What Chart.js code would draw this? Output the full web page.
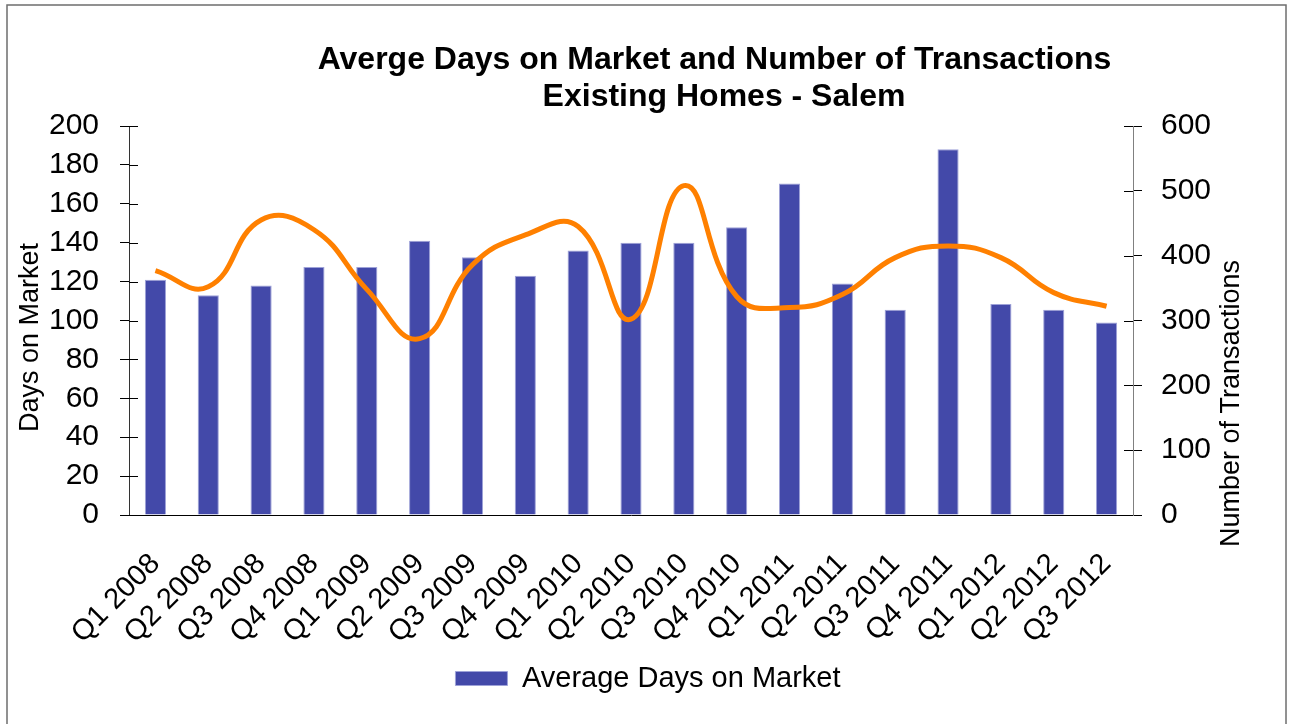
<!DOCTYPE html>
<html>
<head>
<meta charset="utf-8">
<script src="https://cdn.jsdelivr.net/npm/chart.js@4"></script>
<style>
html,body{margin:0;padding:0;background:#fff;}
#wrap{width:1296px;height:724px;position:relative;}
</style>
</head>
<body>
<div id="wrap"><canvas id="c" width="1296" height="724"></canvas></div>
<script>
const categories = ["Q1 2008","Q2 2008","Q3 2008","Q4 2008","Q1 2009","Q2 2009","Q3 2009","Q4 2009","Q1 2010","Q2 2010","Q3 2010","Q4 2010","Q1 2011","Q2 2011","Q3 2011","Q4 2011","Q1 2012","Q2 2012","Q3 2012"];
const daysOnMarket = [121,113,118,127.5,127.5,141,132.5,123,136,140,140,148,170.5,119,105.5,188,108.5,105.5,99];
const transactions = [377,352,455,440,348,272,386,432,445,302,508,337,320,340,397,415,397,343,322];
const leftTickValues = [0,20,40,60,80,100,120,140,160,180,200];
const rightTickValues = [0,100,200,300,400,500,600];
const titleLines = ["Averge Days on Market and Number of Transactions","Existing Homes - Salem"];
const leftAxisTitle = "Days on Market";
const rightAxisTitle = "Number of Transactions";
const barLabel = "Average Days on Market";
const lineLabel = "Number of Transactions";

const FONT = "'Liberation Sans', Arial, sans-serif";

const decor = {
  id: 'decor',
  beforeDraw(chart) {
    const ctx = chart.ctx;
    ctx.save();
    ctx.fillStyle = '#fff';
    ctx.fillRect(0, 0, chart.width, chart.height);
    ctx.strokeStyle = '#6e6e6e';
    ctx.lineWidth = 1.5;
    ctx.strokeRect(7, 5, 1279, 740);
    ctx.restore();
  },
  afterDraw(chart) {
    const ctx = chart.ctx;
    const ca = chart.chartArea;
    ctx.save();
    ctx.lineWidth = 1;
    ctx.strokeStyle = '#000';
    chart.scales.y.ticks.forEach(t => {
      const py = Math.round(chart.scales.y.getPixelForValue(t.value)) + 0.5;
      ctx.beginPath(); ctx.moveTo(ca.left, py); ctx.lineTo(ca.left + 9, py); ctx.stroke();
    });
    chart.scales.y1.ticks.forEach(t => {
      const py = Math.round(chart.scales.y1.getPixelForValue(t.value)) + 0.5;
      ctx.beginPath(); ctx.moveTo(ca.right - 9, py); ctx.lineTo(ca.right, py); ctx.stroke();
    });
    ctx.fillStyle = '#000';
    ctx.font = "bold 32px " + FONT;
    ctx.textAlign = 'center';
    ctx.textBaseline = 'alphabetic';
    ctx.fillText(titleLines[0], 714.5, 69);
    ctx.fillText(titleLines[1], 724, 106);
    ctx.font = "27px " + FONT;
    ctx.textAlign = 'left';
    ctx.save();
    ctx.translate(38, 432);
    ctx.rotate(-Math.PI / 2);
    ctx.fillText(leftAxisTitle, 0, 0);
    ctx.restore();
    ctx.save();
    ctx.translate(1239, 547);
    ctx.rotate(-Math.PI / 2);
    ctx.fillText(rightAxisTitle, 0, 0);
    ctx.restore();
    ctx.restore();
  }
};

new Chart(document.getElementById('c'), {
  data: {
    labels: categories,
    datasets: [
      {
        type: 'line',
        label: lineLabel,
        data: transactions,
        yAxisID: 'y1',
        borderColor: '#FF8000',
        borderWidth: 5,
        pointRadius: 0,
        tension: 0.45,
        fill: false,
        order: 0
      },
      {
        type: 'bar',
        label: barLabel,
        data: daysOnMarket,
        yAxisID: 'y',
        backgroundColor: '#4349A9',
        borderColor: '#9EA2D8',
        borderWidth: 1,
        barPercentage: 0.4,
        categoryPercentage: 1.0,
        order: 1
      }
    ]
  },
  options: {
    responsive: false,
    animation: false,
    devicePixelRatio: 1,
    layout: { padding: { top: 126, left: 0, right: 0, bottom: 21 } },
    plugins: {
      title: { display: false },
      tooltip: { enabled: false },
      legend: {
        position: 'bottom',
        labels: {
          filter: (item) => item.text === barLabel,
          boxWidth: 52,
          boxHeight: 14,
          color: '#000',
          padding: 10,
          font: { family: FONT, size: 29 }
        }
      }
    },
    scales: {
      x: {
        type: 'category',
        offset: true,
        grid: { display: false, drawTicks: false },
        border: { display: true, color: '#000', width: 1 },
        ticks: {
          color: '#000',
          autoSkip: false,
          minRotation: 45,
          maxRotation: 45,
          padding: 32,
          font: { family: FONT, size: 29 }
        },
        afterFit: (s) => { s.height = 139; }
      },
      y: {
        position: 'left',
        min: 0, max: 200,
        afterBuildTicks: (s) => { s.ticks = leftTickValues.map(v => ({ value: v })); },
        grid: { drawOnChartArea: false, drawTicks: true, tickLength: 9, color: '#000' },
        border: { display: true, color: '#333', width: 1 },
        ticks: { color: '#000', padding: 21, autoSkip: false, font: { family: FONT, size: 30, lineHeight: 1 } },
        afterFit: (s) => { s.width = 129; }
      },
      y1: {
        position: 'right',
        min: 0, max: 600,
        afterBuildTicks: (s) => { s.ticks = rightTickValues.map(v => ({ value: v })); },
        grid: { drawOnChartArea: false, drawTicks: true, tickLength: 9, color: '#000' },
        border: { display: true, color: '#808080', width: 1 },
        ticks: { color: '#000', padding: 19, autoSkip: false, font: { family: FONT, size: 30, lineHeight: 1 } },
        afterFit: (s) => { s.width = 163; }
      }
    }
  },
  plugins: [decor]
});
</script>
</body>
</html>
